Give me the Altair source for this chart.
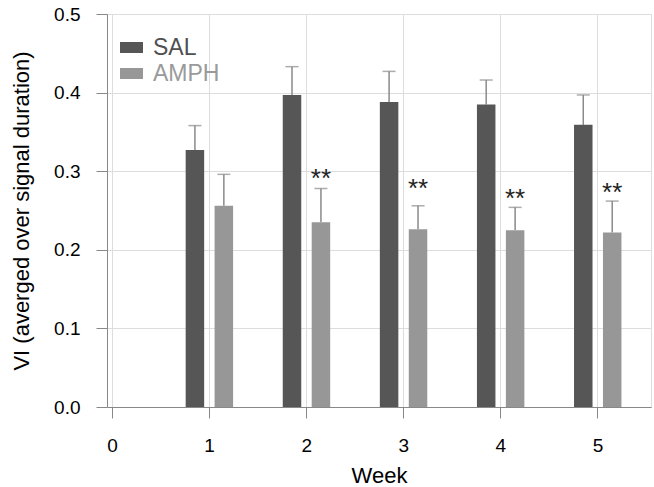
import altair as alt
import pandas as pd

weeks = [1, 2, 3, 4, 5]
groups = ["SAL", "AMPH"]
sal_mean = [0.327, 0.397, 0.388, 0.385, 0.359]
sal_sem = [0.031, 0.036, 0.039, 0.031, 0.038]
amph_mean = [0.256, 0.235, 0.226, 0.225, 0.222]
amph_sem = [0.040, 0.043, 0.030, 0.029, 0.040]
star_weeks = [2, 3, 4, 5]
star_y = [0.290, 0.277, 0.265, 0.272]
star_text = ["**", "**", "**", "**"]
x_ticks = [0, 1, 2, 3, 4, 5]
y_ticks = [0.0, 0.1, 0.2, 0.3, 0.4, 0.5]

rows = []
for w, m, s in zip(weeks, sal_mean, sal_sem):
    rows.append({"week": w, "group": "SAL", "mean": m, "sem": s})
for w, m, s in zip(weeks, amph_mean, amph_sem):
    rows.append({"week": w, "group": "AMPH", "mean": m, "sem": s})
df = pd.DataFrame(rows)
stars = pd.DataFrame({"week": star_weeks, "y": star_y, "t": star_text})

FONT = "Liberation Sans"
xscale = alt.Scale(domain=[0, 5.5], nice=False, zero=False)
yscale = alt.Scale(domain=[0, 0.5], nice=False)

base = alt.Chart(df).transform_calculate(
    xpos="datum.week + (datum.group == 'SAL' ? -0.146 : 0.152)",
    top="datum.mean + datum.sem",
)

xaxis = alt.Axis(values=x_ticks, format="d", title="Week", tickSize=11,
                 labelPadding=18, titlePadding=10, labelFontSize=19,
                 titleFontSize=22, titleFontWeight="normal")
yaxis = alt.Axis(values=y_ticks, format=".1f",
                 title="VI (averged over signal duration)", tickSize=11,
                 labelPadding=16, titlePadding=20, labelFontSize=19,
                 titleFontSize=22, titleFontWeight="normal")

bars = base.mark_bar(size=18.5).encode(
    x=alt.X("xpos:Q", scale=xscale, axis=xaxis),
    y=alt.Y("mean:Q", scale=yscale, axis=yaxis),
    color=alt.Color(
        "group:N",
        scale=alt.Scale(domain=groups, range=["#565656", "#979797"]),
        sort=groups,
        legend=alt.Legend(
            title=None, orient="none", legendX=13, legendY=22,
            symbolType="M-1,-0.48H1V0.48H-1Z", symbolSize=529,
            symbolStrokeWidth=0, labelFontSize=23, labelOffset=10,
            rowPadding=2, padding=0,
            labelColor=alt.ExprRef(expr="datum.label == 'SAL' ? '#505050' : '#9a9a9a'"),
        ),
    ),
)

err = base.mark_rule(color="#8a8a8a", strokeWidth=1.5).encode(
    x="xpos:Q", y="mean:Q", y2="top:Q"
)
caps = base.mark_tick(orient="horizontal", size=13, thickness=1.5,
                      color="#8a8a8a").encode(x="xpos:Q", y="top:Q")

star_layer = alt.Chart(stars).transform_calculate(
    xpos="datum.week + 0.152"
).mark_text(fontSize=26, font=FONT, color="#222222", baseline="middle").encode(
    x="xpos:Q", y="y:Q", text="t:N"
)

chart = alt.layer(err, caps, bars, star_layer).properties(
    width=544, height=393,
    padding={"left": 107, "top": 14, "right": 3, "bottom": 80},
    autosize=alt.AutoSizeParams(type="none"),
).configure_view(stroke=None).configure_axis(
    grid=False, domainColor="#222222", domainWidth=2, tickColor="#222222",
    tickWidth=2, labelColor="#333333", titleColor="#333333",
    labelFont=FONT, titleFont=FONT,
).configure_legend(labelFont=FONT).configure(background="white")

chart.save("out.html", embed_options={"renderer": "svg", "actions": False})
